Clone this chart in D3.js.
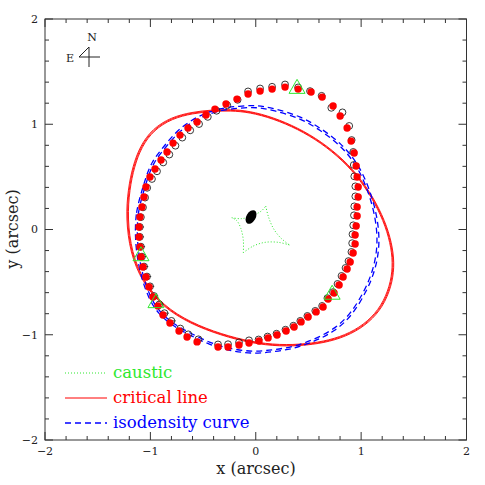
<!DOCTYPE html>
<html>
<head>
<meta charset="utf-8">
<script src="https://cdn.jsdelivr.net/npm/d3@7"></script>
<style>
  body { margin: 0; background: #fff; }
  svg text { font-family: "DejaVu Serif", serif; }
</style>
</head>
<body>
<div id="chart"></div>
<script>
var width = 485,
    height = 485;

// model image positions (red filled dots), arcsec
var modelX = [-0.073, 0.041, 0.155, 0.278, 0.402, 0.525, 0.630, 0.734, 0.801, 0.867,
    0.905, 0.934, 0.953, 0.962, 0.972, 0.972, 0.962, 0.962, 0.953, 0.943,
    0.943, 0.924, 0.896, 0.867, 0.829, 0.791, 0.743, 0.687, 0.639, 0.573,
    0.497, 0.430, 0.364, 0.288, 0.202, 0.117, 0.031, -0.064, -0.159, -0.263,
    -0.358, -0.557, -0.652, -0.728, -0.814, -0.880, -0.928, -0.975, -1.013, -1.042,
    -1.070, -1.089, -1.099, -1.108, -1.108, -1.099, -1.080, -1.061, -1.042, -1.004,
    -0.956, -0.899, -0.842, -0.785, -0.719, -0.643, -0.557, -0.472, -0.387, -0.282,
    -0.178];
var modelY = [1.287, 1.315, 1.334, 1.353, 1.334, 1.306, 1.258, 1.173, 1.078, 0.964,
    0.840, 0.727, 0.603, 0.499, 0.404, 0.309, 0.214, 0.128, 0.033, -0.052,
    -0.138, -0.223, -0.309, -0.375, -0.451, -0.527, -0.603, -0.660, -0.736, -0.783,
    -0.831, -0.878, -0.926, -0.964, -1.002, -1.030, -1.059, -1.078, -1.097, -1.116,
    -1.116, -1.068, -1.021, -0.964, -0.888, -0.812, -0.726, -0.641, -0.546, -0.451,
    -0.356, -0.261, -0.166, -0.071, 0.024, 0.119, 0.214, 0.309, 0.404, 0.499,
    0.575, 0.660, 0.736, 0.821, 0.897, 0.964, 1.021, 1.088, 1.144, 1.192,
    1.239];

// observed arc points (open circles)
var obsX = [-0.073, 0.041, 0.155, 0.278, 0.402, 0.515, 0.625, 0.717, 0.823, 0.887,
    0.910, 0.925, 0.930, 0.935, 0.945, 0.945, 0.935, 0.932, 0.925, 0.918,
    0.915, 0.908, 0.880, 0.852, 0.814, 0.776, 0.733, 0.680, 0.630, 0.565,
    0.490, 0.423, 0.357, 0.282, 0.197, 0.112, 0.027, -0.064, -0.159, -0.263,
    -0.358, -0.544, -0.640, -0.716, -0.800, -0.866, -0.915, -0.965, -1.003, -1.032,
    -1.060, -1.080, -1.090, -1.100, -1.100, -1.090, -1.070, -1.050, -1.030, -0.985,
    -0.937, -0.878, -0.820, -0.762, -0.697, -0.622, -0.538, -0.455, -0.372, -0.270,
    -0.172];
var obsY = [1.312, 1.340, 1.356, 1.378, 1.350, 1.315, 1.270, 1.156, 1.113, 0.984,
    0.850, 0.737, 0.613, 0.505, 0.410, 0.315, 0.220, 0.135, 0.040, -0.045,
    -0.130, -0.213, -0.300, -0.365, -0.441, -0.517, -0.595, -0.652, -0.726, -0.773,
    -0.821, -0.868, -0.914, -0.952, -0.990, -1.017, -1.045, -1.053, -1.072, -1.090,
    -1.092, -1.043, -0.996, -0.941, -0.868, -0.795, -0.712, -0.632, -0.540, -0.447,
    -0.352, -0.258, -0.163, -0.070, 0.024, 0.117, 0.210, 0.303, 0.396, 0.480,
    0.553, 0.637, 0.712, 0.796, 0.873, 0.942, 1.002, 1.070, 1.128, 1.180,
    1.232];
var obsXErr = [0, 0, 0, 0, 0, 0, 0, 0, 0, 0,
    0, 0.03, 0, 0, 0, 0, 0, 0, 0, 0,
    0, 0, 0, 0, 0, 0, 0, 0, 0, 0,
    0, 0, 0, 0, 0, 0, 0, 0, 0, 0,
    0, 0, 0, 0, 0.04, 0.04, 0.04, 0.04, 0.04, 0.04,
    0.04, 0.04, 0.04, 0.04, 0.04, 0, 0, 0, 0, 0,
    0, 0, 0, 0, 0, 0, 0, 0, 0, 0,
    0];

// green triangles
var triX = [0.392, 0.725, -1.089, -0.947];
var triY = [1.341, -0.615, -0.249, -0.695];

// lens galaxy
var galX = -0.045, galY = 0.119;

// critical line
var critX = [-1.225, -1.205, -1.160, -1.090, -0.975, -0.800, -0.600, -0.410, -0.240, -0.060,
    0.164, 0.400, 0.620, 0.830, 1.000, 1.140, 1.240, 1.295, 1.308, 1.280,
    1.200, 1.070, 0.900, 0.700, 0.480, 0.230, -0.040, -0.330, -0.620, -0.880,
    -1.070, -1.185];
var critY = [0.110, 0.380, 0.600, 0.790, 0.950, 1.060, 1.110, 1.130, 1.135, 1.120,
    1.060, 0.960, 0.830, 0.660, 0.470, 0.250, 0.030, -0.180, -0.360, -0.540,
    -0.730, -0.880, -0.990, -1.060, -1.095, -1.105, -1.075, -1.000, -0.890, -0.730,
    -0.500, -0.220];

// isodensity curve
var isoX = [-1.127, -1.118, -1.080, -1.032, -0.975, -0.861, -0.719, -0.529, -0.339, -0.149,
    0.012, 0.164, 0.421, 0.611, 0.801, 0.943, 1.038, 1.114, 1.152, 1.152,
    1.114, 1.038, 0.896, 0.734, 0.544, 0.354, 0.164, -0.026, -0.244, -0.434,
    -0.624, -0.766, -0.909, -1.004, -1.080, -1.118];
var isoY = [-0.005, 0.157, 0.309, 0.470, 0.632, 0.774, 0.945, 1.068, 1.135, 1.154,
    1.163, 1.135, 1.059, 0.945, 0.803, 0.632, 0.442, 0.214, -0.005, -0.195,
    -0.385, -0.575, -0.812, -0.955, -1.049, -1.116, -1.144, -1.163, -1.135, -1.078,
    -0.983, -0.907, -0.793, -0.641, -0.413, -0.195];

// caustic: four concave edges between cusps
var causticEdges = [
    [[-0.228, 0.112], [-0.133, 0.103], [-0.023, 0.135], [0.057, 0.179], [0.095, 0.223]],
    [[0.095, 0.223], [0.120, 0.122], [0.167, 0.011], [0.231, -0.074], [0.319, -0.147]],
    [[0.319, -0.147], [0.215, -0.122], [0.088, -0.122], [-0.023, -0.157], [-0.118, -0.220]],
    [[-0.118, -0.220], [-0.118, -0.100], [-0.142, 0.011], [-0.180, 0.084], [-0.228, 0.112]]
];

var majorTicks = [-2, -1, 0, 1, 2];
var tickLabels = ["\u22122", "\u22121", "0", "1", "2"];
var minorTicks = d3.range(-2, 2.001, 0.2);

var legendItems = ["caustic", "critical line", "isodensity curve"];

var green = "#2ee82e", red = "#ff0000", blue = "#0000ff";

var svg = d3.select("#chart").append("svg")
    .attr("width", width)
    .attr("height", height);

var x = d3.scaleLinear().domain([-2, 2]).range([45, 466.5]);
var y = d3.scaleLinear().domain([-2, 2]).range([440, 19]);

var plot = svg.append("g");

var lineClosed = d3.line()
    .x(function(d) { return x(d[0]); })
    .y(function(d) { return y(d[1]); })
    .curve(d3.curveBasisClosed);

var critPts = critX.map(function(v, i) { return [v, critY[i]]; });
var isoPts = isoX.map(function(v, i) { return [v, isoY[i]]; });

function scaled(s, cx, cy) {
    return "translate(" + cx + "," + cy + ") scale(" + s + ") translate(" + (-cx) + "," + (-cy) + ")";
}

// critical line drawn as three close contours
[0.994, 1.0, 1.006].forEach(function(s) {
    plot.append("path")
        .attr("d", lineClosed(critPts))
        .attr("fill", "none")
        .attr("stroke", red)
        .attr("stroke-width", 0.9)
        .attr("vector-effect", "non-scaling-stroke")
        .attr("transform", scaled(s, x(0.04), y(0.0)));
});

// isodensity: two dashed contours
[1.0, 1.016].forEach(function(s) {
    plot.append("path")
        .attr("d", lineClosed(isoPts))
        .attr("fill", "none")
        .attr("stroke", blue)
        .attr("stroke-width", 1.3)
        .attr("stroke-dasharray", "6,4")
        .attr("vector-effect", "non-scaling-stroke")
        .attr("transform", scaled(s, x(0.0), y(0.0)));
});

var lineOpen = d3.line()
    .x(function(d) { return x(d[0]); })
    .y(function(d) { return y(d[1]); })
    .curve(d3.curveCatmullRom);

plot.selectAll(".caustic")
    .data(causticEdges)
    .enter()
    .append("path")
    .attr("class", "caustic")
    .attr("d", lineOpen)
    .attr("fill", "none")
    .attr("stroke", green)
    .attr("stroke-width", 1)
    .attr("stroke-dasharray", "1,2");

// observed points
var obs = obsX.map(function(v, i) { return { x: v, y: obsY[i], ex: obsXErr[i] }; });

plot.selectAll(".err")
    .data(obs.filter(function(d) { return d.ex > 0; }))
    .enter()
    .append("line")
    .attr("class", "err")
    .attr("x1", function(d) { return x(d.x - d.ex); })
    .attr("x2", function(d) { return x(d.x + d.ex); })
    .attr("y1", function(d) { return y(d.y); })
    .attr("y2", function(d) { return y(d.y); })
    .attr("stroke", "#333")
    .attr("stroke-width", 0.9);

plot.selectAll(".obs")
    .data(obs)
    .enter()
    .append("circle")
    .attr("class", "obs")
    .attr("cx", function(d) { return x(d.x); })
    .attr("cy", function(d) { return y(d.y); })
    .attr("r", 3.4)
    .attr("fill", "none")
    .attr("stroke", "#222")
    .attr("stroke-width", 0.9);

plot.selectAll(".model")
    .data(modelX.map(function(v, i) { return [v, modelY[i]]; }))
    .enter()
    .append("circle")
    .attr("class", "model")
    .attr("cx", function(d) { return x(d[0]); })
    .attr("cy", function(d) { return y(d[1]); })
    .attr("r", 3.7)
    .attr("fill", red);

plot.selectAll(".tri")
    .data(triX.map(function(v, i) { return [v, triY[i]]; }))
    .enter()
    .append("path")
    .attr("class", "tri")
    .attr("d", function(d) {
        var px = x(d[0]), py = y(d[1]);
        return "M" + px + "," + (py - 9) + "L" + (px + 8) + "," + (py + 5) + "L" + (px - 8) + "," + (py + 5) + "Z";
    })
    .attr("fill", "none")
    .attr("stroke", green)
    .attr("stroke-width", 1);

plot.append("ellipse")
    .attr("cx", 0)
    .attr("cy", 0)
    .attr("rx", 4.7)
    .attr("ry", 7.4)
    .attr("transform", "translate(" + x(galX) + "," + y(galY) + ") rotate(30)")
    .attr("fill", "#000");

// frame and ticks
var axisColor = "#333";
svg.append("rect")
    .attr("x", x(-2))
    .attr("y", y(2))
    .attr("width", x(2) - x(-2))
    .attr("height", y(-2) - y(2))
    .attr("fill", "none")
    .attr("stroke", axisColor)
    .attr("stroke-width", 1);

var ticks = svg.append("g").attr("stroke", axisColor).attr("stroke-width", 1);
minorTicks.forEach(function(t) {
    var major = Math.abs(t - Math.round(t)) < 1e-6;
    var len = major ? 8 : 4;
    ticks.append("line").attr("x1", x(t)).attr("x2", x(t)).attr("y1", y(-2)).attr("y2", y(-2) - len);
    ticks.append("line").attr("x1", x(t)).attr("x2", x(t)).attr("y1", y(2)).attr("y2", y(2) + len);
    ticks.append("line").attr("y1", y(t)).attr("y2", y(t)).attr("x1", x(-2)).attr("x2", x(-2) + len);
    ticks.append("line").attr("y1", y(t)).attr("y2", y(t)).attr("x1", x(2)).attr("x2", x(2) - len);
});

svg.selectAll(".xlab")
    .data(majorTicks)
    .enter()
    .append("text")
    .attr("class", "xlab")
    .attr("x", function(d) { return x(d); })
    .attr("y", 455)
    .attr("text-anchor", "middle")
    .attr("font-size", 11)
    .attr("fill", "#222")
    .text(function(d, i) { return tickLabels[i]; });

svg.selectAll(".ylab")
    .data(majorTicks)
    .enter()
    .append("text")
    .attr("class", "ylab")
    .attr("x", 38)
    .attr("y", function(d) { return y(d); })
    .attr("dy", "0.35em")
    .attr("text-anchor", "end")
    .attr("font-size", 11)
    .attr("fill", "#222")
    .text(function(d, i) { return tickLabels[i]; });

svg.append("text")
    .attr("x", 256)
    .attr("y", 474)
    .attr("text-anchor", "middle")
    .attr("font-size", 16)
    .attr("fill", "#222")
    .text("x (arcsec)");

svg.append("text")
    .attr("transform", "translate(18,229) rotate(-90)")
    .attr("text-anchor", "middle")
    .attr("font-size", 16)
    .attr("fill", "#222")
    .text("y (arcsec)");

// compass
var comp = svg.append("g").attr("stroke", "#222").attr("stroke-width", 1).attr("fill", "none");
comp.append("path").attr("d", "M89,47 L89,67 M79,57 L100,57 M89,47 L79,57");
svg.append("text").attr("x", 92).attr("y", 41).attr("text-anchor", "middle")
    .attr("font-family", "Liberation Sans, sans-serif").attr("font-size", 11).attr("fill", "#222").text("N");
svg.append("text").attr("x", 70).attr("y", 62).attr("text-anchor", "middle")
    .attr("font-family", "Liberation Sans, sans-serif").attr("font-size", 11).attr("fill", "#222").text("E");

// legend
var legColors = [green, red, blue];
var legDash = ["1,2", null, "6,4"];
var legend = svg.append("g");
legendItems.forEach(function(name, i) {
    var ly = 373 + i * 25;
    legend.append("line")
        .attr("x1", 65).attr("x2", 107)
        .attr("y1", ly).attr("y2", ly)
        .attr("stroke", legColors[i])
        .attr("stroke-width", i == 2 ? 1.3 : 1)
        .attr("stroke-dasharray", legDash[i]);
    legend.append("text")
        .attr("x", 113)
        .attr("y", ly + 5)
        .attr("font-size", 16.5)
        .attr("fill", legColors[i])
        .text(name);
});
</script>
</body>
</html>
